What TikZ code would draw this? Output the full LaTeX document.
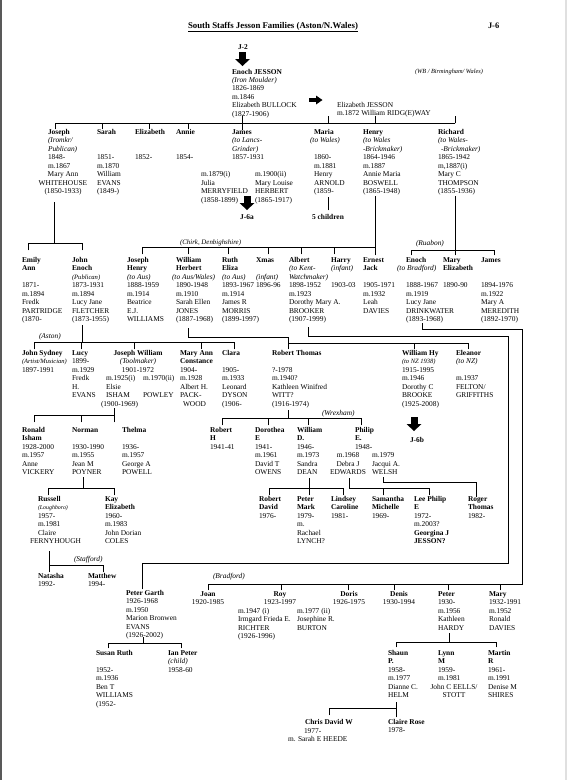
\documentclass[tikz,border=0pt]{standalone}
\usepackage{fontspec}
\setmainfont{Liberation Serif}
\newcommand{\nm}[1]{\textbf{#1}}
\newcommand{\oc}[1]{\textit{#1}}
\newcommand{\sm}[2]{{\fontsize{#1}{8.45}\selectfont\textit{#2}}}
\newcommand{\tl}[1]{\begin{tabular}[t]{@{}l@{}}#1\end{tabular}}
\newcommand{\tc}[1]{\begin{tabular}[t]{@{}c@{}}#1\end{tabular}}
\newcommand{\dnarrow}[2]{%
  \fill ({#1-3.5},{#2}) rectangle ({#1+3.5},{#2+7});
  \fill ({#1-7.5},{#2+7}) -- ({#1+7.5},{#2+7}) -- ({#1},{#2+14}) -- cycle;}
\tikzset{
  txt/.style={inner sep=0pt, outer sep=0pt, anchor=base west, font=\fontsize{7.4}{8.45}\selectfont},
  txc/.style={txt, anchor=base},
  ln/.style={line width=0.85pt, line cap=rect},
}
\begin{document}
\begin{tikzpicture}[x=1pt,y=-1pt]
\useasboundingbox (0,0) rectangle (567,780);
\fill[white] (0,0) rectangle (567,780);
\draw[line width=2pt, black!65] (1,0) -- (1,780);
\draw[line width=1.5pt, black!12] (566,0) -- (566,780);

% ---------- header ----------
\node[txc, font=\fontsize{8.8}{10}\selectfont] (title) at (273,28) {\nm{\underline{South Staffs Jesson Families (Aston/N.Wales)}}};
\node[txt, font=\fontsize{8.4}{10}\selectfont] (j6) at (488,28) {\nm{J-6}};
\node[txt] (j2) at (238,49.5) {\nm{J-2}};
\dnarrow{242.5}{52}
\node[txt] (wb) at (415,73.5) {\sm{6.3}{(WB / Birmingham/ Wales)}};

\node[txt] (enoch) at (232,74) {\tl{\nm{Enoch JESSON}\\ \oc{(Iron Moulder)}\\ 1826-1869\\ m.1846\\ Elizabeth BULLOCK\\ (1827-1906)}};
\fill (309,98) rectangle (316,102);
\fill (316,95.5) -- (322.5,100) -- (316,104.5) -- cycle;
\node[txt] (elizj) at (337,107.5) {\tl{Elizabeth JESSON\\ m.1872 William RIDG(E)WAY}};

% ---------- generation 1 ----------
\draw[ln] (55,123) -- (455,123);
\foreach \x in {55,102,149,188} \draw[ln] (\x,123) -- (\x,129);
\draw[ln] (242,116) -- (242,130);
\foreach \x in {328,375,455} \draw[ln] (\x,116) -- (\x,123);

\node[txt] (joseph) at (48,134.5) {\tl{\nm{Joseph}\\ \oc{(Iromkr/}\\ \oc{Publican)}\\ 1848-\\ m.1867}};
\node[txc] (josephw) at (63,176.75) {\tc{Mary Ann\\ WHITEHOUSE\\ (1850-1933)}};
\node[txt] (sarah) at (97,134.5) {\tl{\nm{Sarah}\\ \\ \\ 1851-\\ m.1870\\ William\\ EVANS\\ (1849-)}};
\node[txt] (elizabeth) at (135,134.5) {\tl{\nm{Elizabeth}\\ \\ \\ 1852-}};
\node[txt] (annie) at (176,134.5) {\tl{\nm{Annie}\\ \\ \\ 1854-}};
\node[txt] (james) at (232,134.5) {\tl{\nm{James}\\ \oc{(to Lancs-}\\ \oc{Grinder)}\\ 1857-1931}};
\node[txt] (jamesa) at (201,176.75) {\tl{m.1879(i)\\ Julia\\ MERRYFIELD\\ (1858-1899)}};
\node[txt] (jamesb) at (255,176.75) {\tl{m.1900(ii)\\ Mary Louise\\ HERBERT\\ (1865-1917)}};
\node[txt] (maria) at (314,134.5) {\tl{\nm{Maria}\\ \hspace*{-4pt}\oc{(to Wales)}\\ \\ 1860-\\ m.1881\\ Henry\\ ARNOLD\\ (1859-}};
\node[txt] (henry) at (363,134.5) {\tl{\nm{Henry}\\ \oc{(to Wales}\\ \oc{-Brickmaker)}\\ 1864-1946\\ m.1887\\ Annie Maria\\ BOSWELL\\ (1865-1948)}};
\node[txt] (richard) at (438,134.5) {\tl{\nm{Richard}\\ \oc{(to Wales-}\\ \hspace*{3pt}\oc{-Brickmaker)}\\ 1865-1942\\ m,1887(i)\\ Mary C\\ THOMPSON\\ (1855-1936)}};

% links below generation 1
\dnarrow{247}{196}
\node[txc] (j6a) at (247,219.5) {\nm{J-6a}};
\draw[ln] (328,197) -- (328,210);
\node[txc] (five) at (328,219.5) {\nm{5 children}};

\draw[ln] (54.5,202) -- (54.5,243);
\draw[ln] (28,250) -- (28,243) -- (82,243) -- (82,250);

\draw[ln] (375,196) -- (375,255);
\draw[ln] (142,254) -- (142,247) -- (375,247);
\foreach \x in {188,228,268,301,334} \draw[ln] (\x,247) -- (\x,254);
\node[txt] (chirk) at (180,244.8) {\sm{6.9}{(Chirk, Denbighshire)}};

\draw[ln] (455,196) -- (455,255);
\draw[ln] (411,255) -- (411,250) -- (494,250) -- (494,255);
\node[txt] (ruabon) at (416,245) {\oc{(Ruabon)}};

% ---------- generation 2 ----------
\node[txt] (emily) at (22,262.5) {\tl{\nm{Emily}\\ \nm{Ann}\\ \\ 1871-\\ m.1894\\ Fredk\\ PARTRIDGE\\ (1870-}};
\node[txt] (johne) at (72,262.5) {\tl{\nm{John}\\ \nm{Enoch}\\ \sm{6.6}{(Publican)}\\ 1873-1931\\ m.1894\\ Lucy Jane\\ FLETCHER\\ (1873-1955)}};
\node[txt] (josephh) at (127,262.5) {\tl{\nm{Joseph}\\ \nm{Henry}\\ \oc{(to Aus)}\\ 1888-1959\\ m.1914\\ Beatrice\\ E.J.\\ WILLIAMS}};
\node[txt] (williamh) at (176,262.5) {\tl{\nm{William}\\ \nm{Herbert}\\ \hspace*{-4pt}\oc{(to Aus/Wales)}\\ 1890-1948\\ m.1910\\ Sarah Ellen\\ JONES\\ (1887-1968)}};
\node[txt] (ruth) at (222,262.5) {\tl{\nm{Ruth}\\ \nm{Eliza}\\ \oc{(to Aus)}\\ 1893-1967\\ m.1914\\ James R\\ MORRIS\\ (1899-1997)}};
\node[txt] (xmas) at (256,262.5) {\tl{\nm{Xmas}\\ \\ \oc{(infant)}\\ 1896-96}};
\node[txt] (albert) at (289,262.5) {\tl{\nm{Albert}\\ \oc{(to Kent-}\\ \oc{Watchmaker)}\\ 1898-1952\\ m.1923\\ Dorothy Mary A.\\ BROOKER\\ (1907-1999)}};
\node[txt] (harry) at (331,262.5) {\tl{\nm{Harry}\\ \oc{(infant)}\\ \\ 1903-03}};
\node[txt] (ernest) at (363,262.5) {\tl{\nm{Ernest}\\ \nm{Jack}\\ \\ 1905-1971\\ m.1932\\ Leah\\ DAVIES}};
\node[txt] (enochb) at (406,262.5) {\tl{\nm{Enoch}\\ \hspace*{-9pt}\oc{(to Bradford)}\\ \\ 1888-1967\\ m.1919\\ Lucy Jane\\ DRINKWATER\\ (1893-1968)}};
\node[txt] (marye) at (443,262.5) {\tl{\nm{Mary}\\ \nm{Elizabeth}\\ \\ 1890-90}};
\node[txt] (jamesr) at (481,262.5) {\tl{\nm{James}\\ \\ \\ 1894-1976\\ m.1922\\ Mary A\\ MEREDITH\\ (1892-1970)}};

% links below generation 2
\draw[ln] (82,325) -- (82,342);
\draw[ln] (34,349) -- (34,342) -- (234,342);
\foreach \x in {81,134,201,234} \draw[ln] (\x,342) -- (\x,349);
\node[txt] (aston) at (39,338.5) {\oc{(Aston)}};

\draw[ln] (188,328) -- (188,337) -- (288,337) -- (288,349);
\draw[ln] (288,343) -- (468,343);
\foreach \x in {414,468} \draw[ln] (\x,343) -- (\x,349);

\draw[ln] (308,327) -- (308,336) -- (508,336) -- (508,563) -- (142,563) -- (142,589);
\draw[ln] (422,323) -- (422,329) -- (522,329) -- (522,584) -- (208,584);
\foreach \x in {208,281,348,394,448,500} \draw[ln] (\x,584) -- (\x,590);
\node[txt] (bradford) at (213,578.5) {\oc{(Bradford)}};

% ---------- generation 3 ----------
\node[txt] (johns) at (22,355.5) {\tl{\nm{John Sydney}\\ \sm{6.5}{(Artist/Musician)}\\ 1897-1991}};
\node[txt] (lucy) at (72,355.5) {\tl{\nm{Lucy}\\ 1899-\\ m.1929\\ Fredk\\ H.\\ EVANS}};
\node[txc] (josephwm) at (138,355.5) {\tc{\nm{Joseph William}\\ \oc{(Toolmaker)}\\ 1901-1972}};
\node[txt] (jwa) at (106,380.85) {\tl{m.1925(i)\\ Elsie\\ ISHAM\\ \hspace*{-5pt}(1900-1969)}};
\node[txt] (jwb) at (143,380.85) {\tl{m.1970(ii)\\ \\ POWLEY}};
\node[txt] (marya) at (180,355.5) {\tl{\nm{Mary Ann}\\ \nm{Constance}\\ 1904-\\ m.1928\\ Albert H.\\ PACK-\\ \hspace*{3pt}WOOD}};
\node[txt] (clara) at (222,355.5) {\tl{\nm{Clara}\\ \\ 1905-\\ m.1933\\ Leonard\\ DYSON\\ (1906-}};
\node[txt] (robertt) at (272,355.5) {\tl{\nm{Robert Thomas}\\ \\ ?-1978\\ m.1940?\\ Kathleen Winifred\\ WITT?\\ (1916-1974)}};
\node[txt] (williamhy) at (402,355.5) {\tl{\nm{William Hy}\\ \sm{6.5}{(to NZ 1938)}\\ 1915-1995\\ m.1946\\ Dorothy C\\ BROOKE\\ (1925-2008)}};
\node[txt] (eleanor) at (456,355.5) {\tl{\nm{Eleanor}\\ \oc{(to NZ)}\\ \\ m.1937\\ FELTON/\\ GRIFFITHS}};

\dnarrow{414}{417}
\node[txc] (j6b) at (417,442.5) {\nm{J-6b}};

% links below generation 3
\draw[ln] (114,408) -- (114,422);
\draw[ln] (34,422) -- (34,415) -- (114,415);
\draw[ln] (81,415) -- (81,422);

\draw[ln] (288,410) -- (288,418);
\draw[ln] (222,425) -- (222,418) -- (361,418) -- (361,425);
\foreach \x in {268,308} \draw[ln] (\x,418) -- (\x,425);
\node[txt] (wrexham) at (322,415.5) {\oc{(Wrexham)}};

% ---------- generation 4 ----------
\node[txt] (ronald) at (22,432.5) {\tl{\nm{Ronald}\\ \nm{Isham}\\ 1928-2000\\ m.1957\\ Anne\\ VICKERY}};
\node[txt] (norman) at (72,432.5) {\tl{\nm{Norman}\\ \\ 1930-1990\\ m.1955\\ Jean M\\ POYNER}};
\node[txt] (thelma) at (122,432.5) {\tl{\nm{Thelma}\\ \\ 1936-\\ m.1957\\ George A\\ POWELL}};
\node[txt] (roberth) at (210,432.5) {\tl{\nm{Robert}\\ \nm{H}\\ 1941-41}};
\node[txt] (dorothea) at (255,432.5) {\tl{\nm{Dorothea}\\ \nm{E}\\ 1941-\\ m.1961\\ David T\\ OWENS}};
\node[txt] (williamd) at (297,432.5) {\tl{\nm{William}\\ \nm{D.}\\ 1946-\\ m.1973\\ Sandra\\ DEAN}};
\node[txt] (philip) at (355,432.5) {\tl{\nm{Philip}\\ \nm{E.}\\ 1948-}};
\node[txc] (philipa) at (348,457.85) {\tc{m.1968\\ Debra J\\ EDWARDS}};
\node[txt] (philipb) at (372,457.85) {\tl{m.1979\\ Jacqui A.\\ WELSH}};

% links below generation 4
\draw[ln] (83,477) -- (83,488);
\draw[ln] (48,495) -- (48,488) -- (114,488) -- (114,495);
\draw[ln] (309,478) -- (309,495);
\draw[ln] (269,495) -- (269,488) -- (343,488) -- (343,495);
\draw[ln] (349,478) -- (349,488) -- (429,488) -- (429,495);
\draw[ln] (383,488) -- (383,495);
\draw[ln] (383,477) -- (383,482) -- (476,482) -- (476,497);

% ---------- generation 5 ----------
\node[txt] (russell) at (38,501.5) {\tl{\nm{Russell}\\ \sm{5.9}{(Loughboro)}\\ 1957-\\ m.1981\\ Claire\\ \hspace*{-8pt}FERNYHOUGH}};
\node[txt] (kay) at (105,501.5) {\tl{\nm{Kay}\\ \nm{Elizabeth}\\ 1960-\\ m.1983\\ John Dorian\\ COLES}};
\node[txt] (robertd) at (259,501.5) {\tl{\nm{Robert}\\ \nm{David}\\ 1976-}};
\node[txt] (peterm) at (297,501.5) {\tl{\nm{Peter}\\ \nm{Mark}\\ 1979-\\ m.\\ Rachael\\ LYNCH?}};
\node[txt] (lindsey) at (331,501.5) {\tl{\nm{Lindsey}\\ \nm{Caroline}\\ 1981-}};
\node[txt] (samantha) at (372,501.5) {\tl{\nm{Samantha}\\ \nm{Michelle}\\ 1969-}};
\node[txt] (leep) at (414,501.5) {\tl{\nm{Lee Philip}\\ \nm{E}\\ 1972-\\ m.2003?\\ \nm{Georgina J}\\ \nm{JESSON?}}};
\node[txt] (roger) at (468,501.5) {\tl{\nm{Roger}\\ \nm{Thomas}\\ 1982-}};

\draw[ln] (49,551) -- (49,572);
\draw[ln] (49,565) -- (103,565) -- (103,572);
\node[txt] (stafford) at (74,561.5) {\oc{(Stafford)}};
\node[txt] (natasha) at (38,578.5) {\tl{\nm{Natasha}\\ 1992-}};
\node[txt] (matthew) at (88,578.5) {\tl{\nm{Matthew}\\ 1994-}};

% ---------- Albert's and Enoch's lines ----------
\node[txt] (peterg) at (126,595.5) {\tl{\nm{Peter Garth}\\ 1926-1968\\ m.1950\\ Marion Bronwen\\ EVANS\\ (1926-2002)}};
\draw[ln] (143,637) -- (143,643);
\draw[ln] (108,648) -- (108,643) -- (181,643) -- (181,648);
\node[txt] (susan) at (96,655.5) {\tl{\nm{Susan Ruth}\\ \\ 1952-\\ m.1936\\ Ben T\\ WILLIAMS\\ (1952-}};
\node[txt] (ianp) at (168,655.5) {\tl{\nm{Ian Peter}\\ \oc{(child)}\\ 1958-60}};

\node[txc] (joan) at (208,596.5) {\tc{\nm{Joan}\\ 1920-1985}};
\node[txc] (roy) at (280,596.5) {\tc{\nm{Roy}\\ 1923-1997}};
\node[txt] (roya) at (238,613.4) {\tl{m.1947 (i)\\ Irmgard Frieda E.\\ RICHTER\\ (1926-1996)}};
\node[txt] (royb) at (297,613.4) {\tl{m.1977 (ii)\\ Josephine R.\\ BURTON}};
\node[txc] (doris) at (349,596.5) {\tc{\nm{Doris}\\ 1926-1975}};
\node[txc] (denis) at (399,596.5) {\tc{\nm{Denis}\\ 1930-1994}};
\node[txt] (peter) at (438,596.5) {\tl{\nm{Peter}\\ 1930-\\ m.1956\\ Kathleen\\ HARDY}};
\node[txt] (mary) at (489,596.5) {\tl{\nm{Mary}\\ 1932-1991\\ m.1952\\ Ronald\\ DAVIES}};

\draw[ln] (449,633) -- (449,642);
\draw[ln] (396,647) -- (396,642) -- (496,642) -- (496,647);
\node[txt] (shaun) at (388,655.5) {\tl{\nm{Shaun}\\ \nm{P.}\\ 1958-\\ m.1977\\ Dianne C.\\ HELM}};
\node[txt] (lynn) at (438,655.5) {\tl{\nm{Lynn}\\ \nm{M}\\ 1959-\\ m.1981}};
\node[txc] (lynnb) at (454,689.3) {\tc{John C EELLS/\\ STOTT}};
\node[txt] (martin) at (488,655.5) {\tl{\nm{Martin}\\ \nm{R}\\ 1961-\\ m.1991\\ Denise M\\ SHIRES}};

\draw[ln] (396,702) -- (396,717);
\draw[ln] (329,715) -- (329,708) -- (396,708);
\node[txt] (chris) at (305,724.5) {\nm{Chris David W}};
\node[txt] (chrisb) at (304,733) {1977-};
\node[txt] (chrisc) at (288,741.4) {m. Sarah E HEEDE};
\node[txt] (claire) at (388,724.5) {\tl{\nm{Claire Rose}\\ 1978-}};
\end{tikzpicture}
\end{document}
